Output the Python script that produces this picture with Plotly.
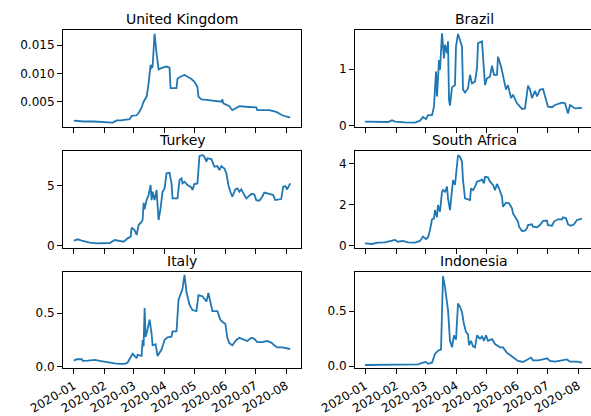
import pandas as pd
import plotly.graph_objects as go

BASE = pd.Timestamp("2020-01-01")

countries = ["United Kingdom", "Brazil", "Turkey", "South Africa", "Italy", "Indonesia"]

uk_days = [0, 10, 20, 30, 39, 43, 47, 56, 58, 63, 65, 68, 70, 73, 75, 77, 78, 79, 81, 83, 85, 89, 93, 96, 97, 103, 104, 107, 111, 114, 118, 121, 124, 125, 128, 133, 139, 148, 149, 150, 156, 159, 162, 166, 173, 183, 184, 196, 203, 209, 217]
uk_vals = [0.00165, 0.0015, 0.0015, 0.0014, 0.0013, 0.0017, 0.0017, 0.0019, 0.0025, 0.0026, 0.003, 0.004, 0.005, 0.0059, 0.0082, 0.0115, 0.011, 0.0112, 0.017, 0.0135, 0.0107, 0.011, 0.0112, 0.011, 0.0074, 0.0074, 0.0091, 0.0094, 0.0097, 0.0094, 0.009, 0.0085, 0.0076, 0.0059, 0.0054, 0.0053, 0.0052, 0.005, 0.0054, 0.0047, 0.0042, 0.0035, 0.0038, 0.0042, 0.0041, 0.004, 0.0035, 0.0035, 0.0032, 0.0026, 0.0022]

br_days = [0, 10, 23, 27, 30, 40, 50, 55, 58, 61, 63, 67, 69, 71, 72, 74, 75, 77, 79, 80, 82, 83, 84, 85, 87, 90, 91, 93, 95, 97, 98, 100, 103, 105, 107, 110, 112, 113, 117, 118, 120, 122, 125, 127, 129, 132, 133, 136, 138, 141, 143, 146, 148, 152, 157, 160, 163, 165, 167, 170, 172, 175, 178, 183, 187, 190, 197, 200, 203, 205, 210, 217]
br_vals = [0.076, 0.07, 0.07, 0.1, 0.076, 0.065, 0.06, 0.094, 0.16, 0.12, 0.19, 0.19, 0.34, 0.96, 0.52, 1.16, 0.99, 1.63, 1.19, 1.43, 1.28, 1.49, 0.46, 0.36, 0.68, 0.72, 1.4, 1.62, 1.52, 1.4, 0.64, 0.59, 0.66, 0.9, 0.75, 0.78, 1.02, 1.46, 1.49, 1.16, 0.72, 0.84, 0.87, 1.06, 0.9, 0.9, 1.22, 1.05, 0.9, 0.64, 0.72, 0.49, 0.55, 0.4, 0.3, 0.31, 0.71, 0.64, 0.49, 0.62, 0.52, 0.64, 0.65, 0.34, 0.33, 0.37, 0.41, 0.4, 0.22, 0.37, 0.31, 0.32]

tr_days = [0, 4, 9, 16, 23, 29, 36, 41, 46, 50, 54, 57, 58, 61, 63, 65, 68, 69, 70, 71, 73, 75, 77, 78, 79, 81, 83, 84, 85, 87, 89, 91, 93, 96, 98, 99, 104, 106, 108, 109, 111, 114, 118, 119, 121, 124, 126, 129, 131, 133, 134, 138, 141, 144, 146, 148, 151, 153, 155, 157, 159, 162, 164, 166, 168, 171, 173, 178, 181, 183, 186, 189, 191, 196, 200, 202, 208, 210, 212, 214, 217]
tr_vals = [0.42, 0.53, 0.39, 0.25, 0.19, 0.22, 0.22, 0.47, 0.39, 0.33, 0.61, 0.75, 1.5, 1.31, 0.89, 1.72, 2.0, 2.14, 3.58, 3.03, 3.8, 4.22, 5.06, 3.8, 4.5, 3.8, 4.64, 3.67, 2.14, 3.11, 4.5, 4.78, 6.03, 6.08, 5.19, 3.94, 3.94, 5.47, 5.61, 5.19, 5.33, 5.06, 4.86, 4.64, 5.14, 5.19, 7.47, 7.56, 7.42, 7.0, 7.28, 7.22, 6.58, 6.64, 6.31, 6.64, 6.44, 6.03, 5.06, 4.5, 4.08, 4.69, 4.78, 4.5, 4.69, 4.22, 3.94, 4.31, 4.28, 3.8, 3.75, 4.08, 4.42, 4.31, 4.22, 3.8, 3.89, 4.92, 4.97, 4.69, 5.19]

za_days = [0, 7, 13, 20, 27, 30, 33, 38, 43, 50, 55, 58, 61, 63, 65, 67, 69, 70, 72, 73, 75, 77, 78, 80, 82, 83, 85, 87, 88, 90, 92, 93, 95, 97, 98, 100, 103, 105, 106, 108, 110, 112, 115, 117, 119, 120, 123, 125, 128, 130, 132, 134, 137, 138, 141, 144, 147, 148, 151, 153, 154, 157, 160, 162, 163, 167, 168, 172, 175, 178, 182, 183, 187, 189, 193, 197, 198, 201, 203, 206, 209, 212, 217]
za_vals = [0.11, 0.08, 0.15, 0.16, 0.24, 0.28, 0.19, 0.23, 0.16, 0.15, 0.23, 0.44, 0.32, 0.4, 0.76, 1.28, 1.33, 1.73, 1.38, 1.98, 1.65, 2.62, 2.7, 2.62, 2.87, 2.3, 1.73, 2.7, 3.19, 2.95, 3.84, 4.4, 4.32, 4.08, 3.19, 2.3, 2.25, 2.22, 2.79, 2.7, 2.87, 3.11, 3.16, 3.22, 3.03, 3.35, 3.32, 3.11, 2.95, 2.7, 3.0, 2.79, 2.38, 1.89, 2.09, 2.06, 1.81, 1.57, 1.33, 1.17, 0.92, 0.71, 0.73, 0.84, 1.0, 1.04, 0.92, 0.89, 1.0, 1.2, 1.21, 1.0, 0.97, 1.17, 1.28, 1.28, 1.38, 1.33, 1.04, 0.97, 1.04, 1.25, 1.31]

it_days = [0, 3, 8, 9, 14, 21, 26, 31, 36, 41, 46, 51, 54, 57, 59, 61, 63, 64, 68, 69, 70, 71, 72, 74, 76, 78, 79, 82, 84, 88, 91, 94, 98, 99, 103, 105, 107, 109, 111, 113, 116, 119, 123, 125, 129, 133, 135, 137, 139, 144, 147, 149, 152, 154, 156, 159, 163, 166, 169, 174, 178, 181, 184, 189, 194, 198, 201, 204, 209, 217]
it_vals = [0.056, 0.069, 0.069, 0.053, 0.056, 0.063, 0.053, 0.044, 0.038, 0.031, 0.025, 0.025, 0.038, 0.094, 0.12, 0.1, 0.078, 0.11, 0.1, 0.25, 0.19, 0.55, 0.28, 0.35, 0.44, 0.31, 0.2, 0.21, 0.1, 0.16, 0.25, 0.275, 0.28, 0.33, 0.33, 0.625, 0.67, 0.73, 0.86, 0.7, 0.58, 0.53, 0.52, 0.67, 0.66, 0.61, 0.69, 0.59, 0.52, 0.52, 0.44, 0.42, 0.4, 0.27, 0.22, 0.2, 0.25, 0.27, 0.26, 0.24, 0.27, 0.26, 0.23, 0.23, 0.24, 0.225, 0.2, 0.18, 0.18, 0.165]

id_days = [0, 15, 30, 45, 53, 58, 61, 63, 67, 70, 73, 76, 77, 78, 80, 82, 83, 85, 87, 88, 89, 91, 93, 95, 97, 99, 101, 103, 104, 106, 108, 110, 112, 115, 117, 119, 121, 123, 127, 130, 135, 138, 142, 145, 148, 153, 158, 163, 166, 168, 173, 178, 182, 185, 190, 197, 202, 205, 212, 217]
id_vals = [0.009, 0.012, 0.015, 0.014, 0.015, 0.03, 0.037, 0.02, 0.03, 0.11, 0.14, 0.15, 0.44, 0.82, 0.72, 0.6, 0.51, 0.23, 0.17, 0.23, 0.28, 0.24, 0.57, 0.54, 0.49, 0.38, 0.31, 0.29, 0.19, 0.23, 0.18, 0.17, 0.28, 0.25, 0.27, 0.23, 0.28, 0.23, 0.245, 0.2, 0.17, 0.17, 0.12, 0.1, 0.077, 0.046, 0.037, 0.06, 0.077, 0.052, 0.052, 0.06, 0.07, 0.046, 0.04, 0.052, 0.06, 0.04, 0.04, 0.03]

y_tickvals = [[0.005, 0.010, 0.015], [0, 1], [0, 5], [0, 2, 4], [0.0, 0.5], [0.0, 0.5]]
y_ticktext = [["0.005", "0.010", "0.015"], ["0", "1"], ["0", "5"], ["0", "2", "4"], ["0.0", "0.5"], ["0.0", "0.5"]]

series = [(uk_days, uk_vals), (br_days, br_vals), (tr_days, tr_vals),
          (za_days, za_vals), (it_days, it_vals), (id_days, id_vals)]

W, H = 591, 416
FONT = "DejaVu Sans"
# pixel geometry
col_px = [(63, 301), (355, 591)]
row_px = [(30, 127), (150.7, 248.3), (271.7, 368.3)]
x_day_range = [(-10.85, 227.85), (-10.0, 226.0)]
y_ranges = [(0.00053, 0.01765), (-0.018, 1.69), (-0.22, 7.92), (-0.13, 4.62), (-0.016, 0.89), (-0.021, 0.86)]

fig = go.Figure()
layout = dict(width=W, height=H, margin=dict(l=0, r=0, t=0, b=0, autoexpand=False),
              paper_bgcolor="white", plot_bgcolor="white", showlegend=False,
              font=dict(family=FONT, size=12, color="black"))
annotations = []
for i, (name, (d, v)) in enumerate(zip(countries, series)):
    r, c = divmod(i, 2)
    n = i + 1
    xs = BASE + pd.to_timedelta(d, unit="D")
    fig.add_trace(go.Scatter(x=xs, y=v, mode="lines",
                             line=dict(color="#1f77b4", width=1.8),
                             xaxis=f"x{n}", yaxis=f"y{n}", hoverinfo="skip"))
    x0, x1 = col_px[c]
    yt, yb = row_px[r]
    xdom = [x0 / W, x1 / W]
    ydom = [1 - yb / H, 1 - yt / H]
    lo, hi = x_day_range[c]
    layout[f"xaxis{n}"] = dict(
        domain=xdom, anchor=f"y{n}", type="date", automargin=False,
        range=[BASE + pd.Timedelta(days=lo), BASE + pd.Timedelta(days=hi)],
        tick0="2020-01-01", dtick="M1", tickformat="%Y-%m",
        showticklabels=(r == 2), tickangle=-30,
        ticks="outside", ticklen=5, tickwidth=1, tickcolor="black",
        showline=True, linecolor="black", linewidth=1, mirror=True,
        showgrid=False, zeroline=False,
        tickfont=dict(family=FONT, size=12, color="black"))
    layout[f"yaxis{n}"] = dict(
        domain=ydom, anchor=f"x{n}", range=list(y_ranges[i]), automargin=False,
        tickvals=y_tickvals[i], ticktext=y_ticktext[i],
        ticks="outside", ticklen=5, tickwidth=1, tickcolor="black",
        showline=True, linecolor="black", linewidth=1, mirror=(c == 0),
        showgrid=False, zeroline=False,
        tickfont=dict(family=FONT, size=12, color="black"))
    annotations.append(dict(text=name, xref="paper", yref="paper",
                            x=((x0 + x1) / 2 if c == 0 else 474) / W, y=ydom[1],
                            xanchor="center", yanchor="bottom", yshift=1,
                            showarrow=False,
                            font=dict(family=FONT, size=14, color="black")))
layout["annotations"] = annotations
fig.update_layout(**layout)
fig.write_html("out.html", config={"displayModeBar": False, "staticPlot": True},
               post_script="document.body.style.margin='0';document.body.style.overflow='hidden';")
